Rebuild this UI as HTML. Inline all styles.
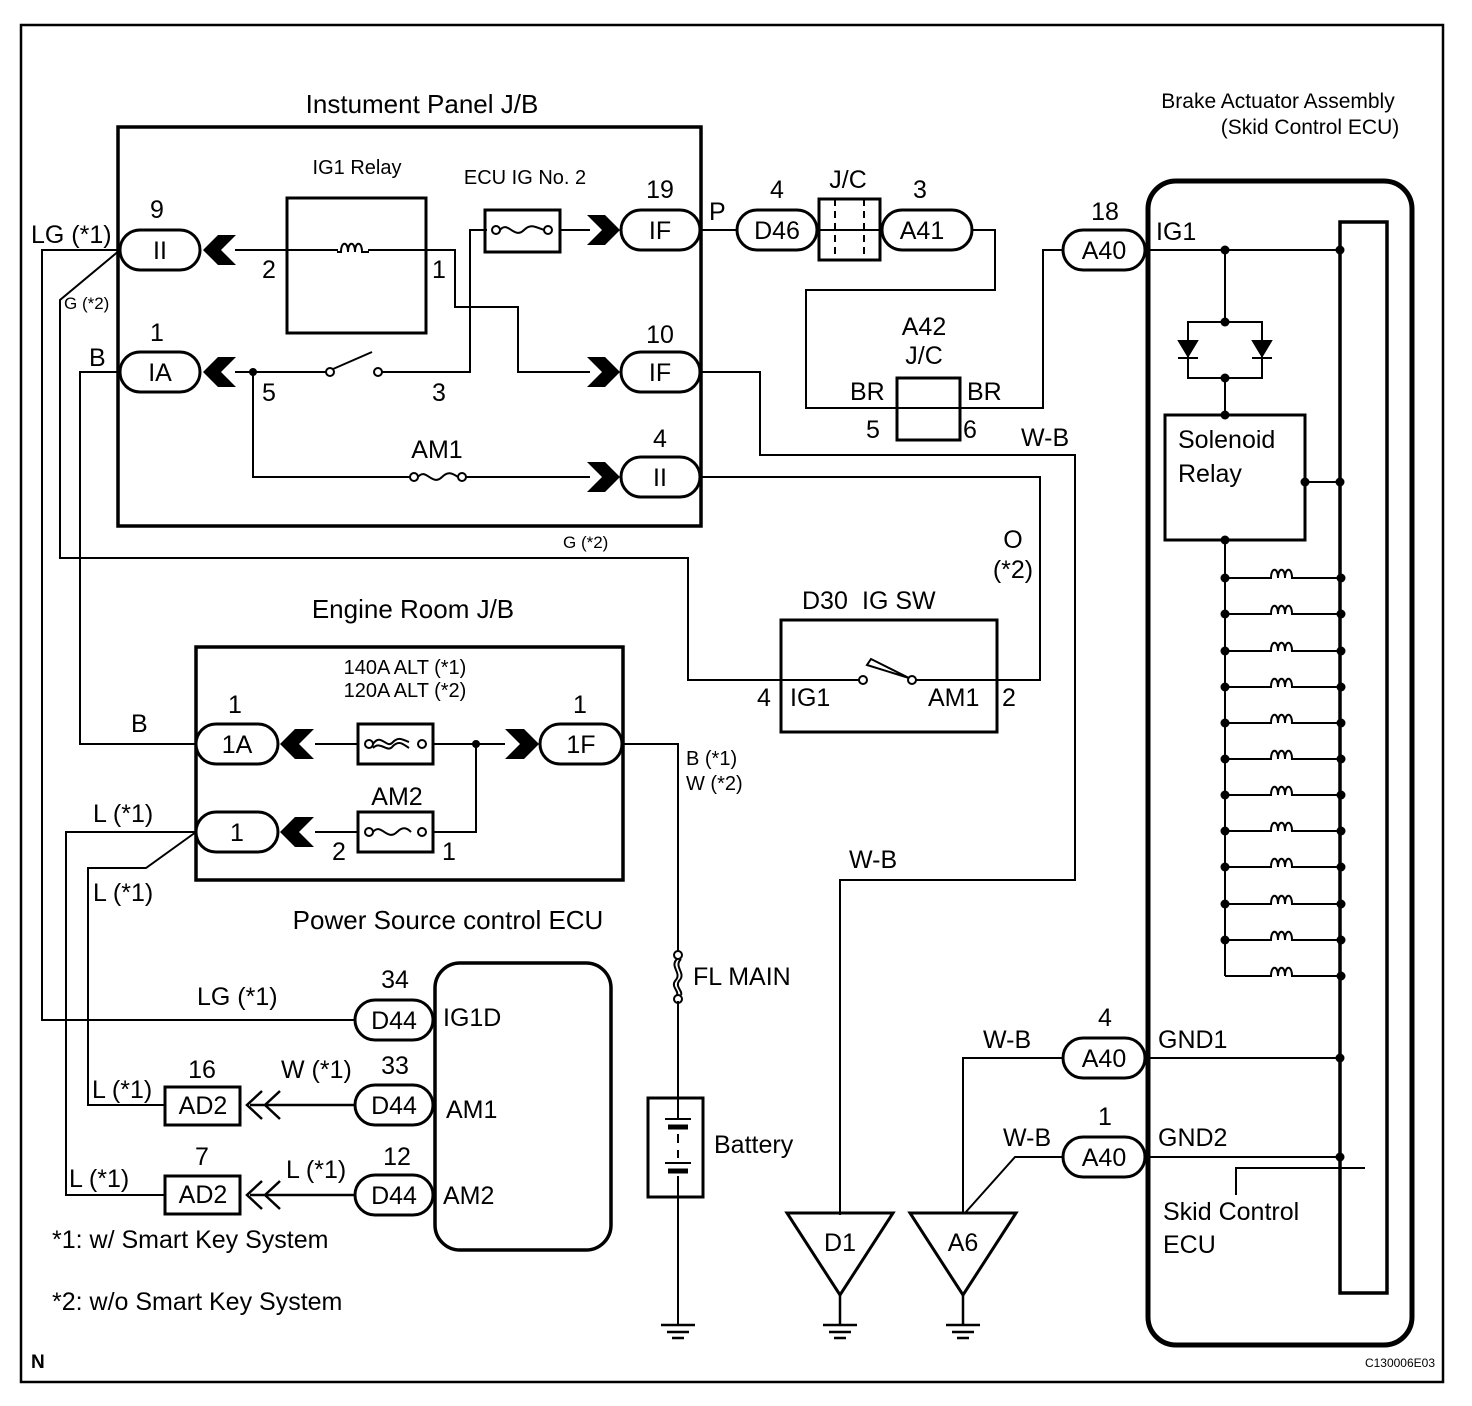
<!DOCTYPE html>
<html><head><meta charset="utf-8"><style>
html,body{margin:0;padding:0;background:#fff}
svg{display:block}
text{font-family:"Liberation Sans",Arial,sans-serif;fill:#000}
</style></head><body>
<svg width="1472" height="1406" viewBox="0 0 1472 1406" xmlns="http://www.w3.org/2000/svg">
<defs>
<path id="coil" d="M-16,0 h4 c0,-11 7,-11 7,0 c0,-11 7,-11 7,0 c0,-11 7,-11 7,0 h7" fill="none" stroke="#000" stroke-width="2"/>
</defs>
<rect x="21" y="25" width="1422" height="1357" fill="none" stroke="#000" stroke-width="2.5"/>
<g fill="none" stroke="#000" stroke-width="2">
<rect x="118" y="127" width="583" height="399" stroke-width="3.5"/>
<rect x="287" y="198" width="139" height="135" stroke-width="3"/>
<rect x="120" y="230" width="80" height="40" rx="20" stroke-width="3" fill="#fff"/>
<rect x="120" y="352" width="80" height="40" rx="20" stroke-width="3" fill="#fff"/>
<rect x="621" y="210" width="79" height="40" rx="20" stroke-width="3" fill="#fff"/>
<rect x="621" y="352" width="79" height="40" rx="20" stroke-width="3" fill="#fff"/>
<rect x="621" y="457" width="79" height="40" rx="20" stroke-width="3" fill="#fff"/>
<path d="M235,250 H338 M368,250 H455 V307 H518 V372 H590"/>
<path d="M235,372 H326 M382,372 H470 V230 H487 M560,230 H590"/>
<path d="M253,372 V477 H410 M466,477 H590"/>
<rect x="485" y="210" width="75" height="42" stroke-width="3"/>
<circle cx="496" cy="230" r="4"/><circle cx="548" cy="230" r="4"/>
<path d="M500,230 c8,-10 14,10 24,0 c6,-6 10,-4 20,0"/>
<circle cx="330" cy="372" r="4"/><circle cx="378" cy="372" r="4"/>
<path d="M333,369 L372,352"/>
<circle cx="414" cy="477" r="4"/><circle cx="462" cy="477" r="4"/>
<path d="M418,477 c8,-10 14,10 24,0 c6,-6 10,-4 16,0"/>
<path d="M700,230 H737 M817,230 H882 M972,230 H995 V290 H806 V408 H1043 V250 H1063"/>
<rect x="737" y="210" width="80" height="40" rx="20" stroke-width="3"/>
<rect x="819" y="199" width="61" height="61" stroke-width="3" fill="#fff"/>
<path d="M819,230 H880"/>
<path d="M835,199 V260 M864,199 V260" stroke-dasharray="7,5"/>
<rect x="882" y="210" width="90" height="40" rx="20" stroke-width="3" fill="#fff"/>
<rect x="897" y="378" width="63" height="62" stroke-width="3" fill="#fff"/>
<path d="M897,408 H960"/>
<rect x="1063" y="230" width="82" height="40" rx="20" stroke-width="3" fill="#fff"/>
<path d="M700,372 H760 V455 H1075 V880 H840 V1215"/>
<path d="M700,477 H1040 V680 H997"/>
<rect x="781" y="620" width="216" height="112" stroke-width="3"/>
<path d="M781,680 H859 M916,680 H997"/>
<circle cx="863" cy="680" r="4"/><circle cx="912" cy="680" r="4"/>
<path d="M867,665 L909,678 L871,659 Z" stroke-width="2"/>
<path d="M781,680 H688 V558 H60 V300 L120,250"/>
<path d="M120,250 H42 V1020 H355"/>
<path d="M120,372 H80 V744 H196"/>
<rect x="196" y="647" width="427" height="233" stroke-width="3.5"/>
<rect x="196" y="724" width="82" height="40" rx="20" stroke-width="3" fill="#fff"/>
<rect x="196" y="812" width="82" height="40" rx="20" stroke-width="3" fill="#fff"/>
<rect x="540" y="724" width="82" height="40" rx="20" stroke-width="3" fill="#fff"/>
<path d="M315,744 H358 M433,744 H505 M315,832 H358 M433,832 H476 V744"/>
<rect x="358" y="724" width="75" height="40" stroke-width="3"/>
<rect x="358" y="812" width="75" height="40" stroke-width="3"/>
<circle cx="369" cy="744" r="4"/><circle cx="422" cy="744" r="4"/>
<path d="M373,744 c8,-12 14,6 20,-2 c6,-6 10,-2 16,0 M373,748 c8,-8 14,6 20,-2 c6,-6 10,-2 16,2"/>
<circle cx="369" cy="832" r="4"/><circle cx="422" cy="832" r="4"/>
<path d="M373,832 c8,-10 14,10 24,0 c6,-6 10,-4 14,0"/>
<path d="M196,832 H66 V1195 H165"/>
<path d="M196,832 L146,868 H88 V1105 H165"/>
<rect x="165" y="1087" width="75" height="38" stroke-width="3"/>
<rect x="165" y="1176" width="75" height="38" stroke-width="3"/>
<path d="M262,1091 L247,1105 L262,1119 M280,1091 L265,1105 L280,1119 M250,1105 H355" stroke-width="2.5"/>
<path d="M262,1181 L247,1195 L262,1209 M280,1181 L265,1195 L280,1209 M250,1195 H355" stroke-width="2.5"/>
<rect x="355" y="1000" width="78" height="40" rx="20" stroke-width="3" fill="#fff"/>
<rect x="355" y="1085" width="78" height="40" rx="20" stroke-width="3" fill="#fff"/>
<rect x="355" y="1175" width="78" height="40" rx="20" stroke-width="3" fill="#fff"/>
<rect x="435" y="963" width="176" height="287" rx="25" stroke-width="3.5"/>
<path d="M622,744 H678 V952 M678,1001 V1098 M678,1197 V1325"/>
<circle cx="678" cy="955" r="4"/><circle cx="678" cy="999" r="4"/>
<path d="M677,959 c-8,8 6,14 -2,22 c-4,6 4,10 2,14 M681,959 c-8,8 6,14 -2,22 c-4,6 4,10 2,14"/>
<rect x="648" y="1098" width="55" height="99" stroke-width="3"/>
<path d="M678,1098 V1119 M665,1119 H691 M678,1134 V1143 M678,1150 V1158 M665,1163 H691 M678,1176 V1197"/>
<path d="M668,1127 H688 M668,1171 H688" stroke-width="5"/>
<path d="M661,1325 H695 M667,1332 H689 M672,1338 H684" stroke-width="2.5"/>
<path d="M787,1213 H893 L840,1295 Z" stroke-width="3"/>
<path d="M840,1295 V1325 M823,1325 H857 M829,1332 H851 M834,1338 H846" stroke-width="2.5"/>
<path d="M910,1213 H1016 L963,1295 Z" stroke-width="3"/>
<path d="M963,1295 V1325 M946,1325 H980 M952,1332 H974 M957,1338 H969" stroke-width="2.5"/>
<path d="M963,1213 V1058 H1063 M965,1213 L1015,1157 H1063"/>
<rect x="1063" y="1038" width="82" height="40" rx="20" stroke-width="3" fill="#fff"/>
<rect x="1063" y="1137" width="82" height="40" rx="20" stroke-width="3" fill="#fff"/>
<rect x="1148" y="181" width="264" height="1164" rx="28" stroke-width="5"/>
<rect x="1340" y="222" width="47" height="1071" stroke-width="3.5"/>
<path d="M1145,250 H1340 M1225,250 V322 M1188,322 H1262 V378 H1188 Z M1225,378 V415"/>
<path d="M1305,482 H1340 M1225,540 V976"/>
<rect x="1165" y="415" width="140" height="125" stroke-width="3"/>
<path d="M1145,1058 H1340 M1145,1157 H1340 M1236,1195 V1168 H1365"/>
</g>
<g fill="#000" stroke="#000" stroke-width="2">
<path d="M1179,341 H1197 L1188,356 Z"/><path d="M1178,358 H1198"/>
<path d="M1253,341 H1271 L1262,356 Z"/><path d="M1252,358 H1272"/>
</g>
<g fill="none" stroke="#000" stroke-width="2">
<path d="M1225,578 H1267 M1299,578 H1341"/><use href="#coil" x="1283" y="578"/>
<path d="M1225,614 H1267 M1299,614 H1341"/><use href="#coil" x="1283" y="614"/>
<path d="M1225,651 H1267 M1299,651 H1341"/><use href="#coil" x="1283" y="651"/>
<path d="M1225,687 H1267 M1299,687 H1341"/><use href="#coil" x="1283" y="687"/>
<path d="M1225,723 H1267 M1299,723 H1341"/><use href="#coil" x="1283" y="723"/>
<path d="M1225,759 H1267 M1299,759 H1341"/><use href="#coil" x="1283" y="759"/>
<path d="M1225,795 H1267 M1299,795 H1341"/><use href="#coil" x="1283" y="795"/>
<path d="M1225,831 H1267 M1299,831 H1341"/><use href="#coil" x="1283" y="831"/>
<path d="M1225,867 H1267 M1299,867 H1341"/><use href="#coil" x="1283" y="867"/>
<path d="M1225,904 H1267 M1299,904 H1341"/><use href="#coil" x="1283" y="904"/>
<path d="M1225,940 H1267 M1299,940 H1341"/><use href="#coil" x="1283" y="940"/>
<path d="M1225,976 H1267 M1299,976 H1341"/><use href="#coil" x="1283" y="976"/>
</g>
<use href="#coil" x="353" y="252"/>
<g fill="#000">
<circle cx="253" cy="372" r="4"/><circle cx="476" cy="744" r="4"/>
<circle cx="1225" cy="250" r="4.5"/><circle cx="1340" cy="250" r="4.5"/>
<circle cx="1225" cy="322" r="4.5"/><circle cx="1225" cy="378" r="4.5"/><circle cx="1225" cy="415" r="4.5"/>
<circle cx="1305" cy="482" r="4.5"/><circle cx="1340" cy="482" r="4.5"/><circle cx="1225" cy="540" r="4.5"/>
<circle cx="1340" cy="1058" r="4.5"/><circle cx="1340" cy="1157" r="4.5"/>
<circle cx="1225" cy="578" r="4.5"/><circle cx="1225" cy="614" r="4.5"/><circle cx="1225" cy="651" r="4.5"/><circle cx="1225" cy="687" r="4.5"/><circle cx="1225" cy="723" r="4.5"/><circle cx="1225" cy="759" r="4.5"/><circle cx="1225" cy="795" r="4.5"/><circle cx="1225" cy="831" r="4.5"/><circle cx="1225" cy="867" r="4.5"/><circle cx="1225" cy="904" r="4.5"/><circle cx="1225" cy="940" r="4.5"/>
<circle cx="1341" cy="578" r="4.5"/><circle cx="1341" cy="614" r="4.5"/><circle cx="1341" cy="651" r="4.5"/><circle cx="1341" cy="687" r="4.5"/><circle cx="1341" cy="723" r="4.5"/><circle cx="1341" cy="759" r="4.5"/><circle cx="1341" cy="795" r="4.5"/><circle cx="1341" cy="831" r="4.5"/><circle cx="1341" cy="867" r="4.5"/><circle cx="1341" cy="904" r="4.5"/><circle cx="1341" cy="940" r="4.5"/><circle cx="1341" cy="976" r="4.5"/>
<path d="M203,250 L218,235 L236,235 L221,250 L236,265 L218,265 Z"/>
<path d="M203,372 L218,357 L236,357 L221,372 L236,387 L218,387 Z"/>
<path d="M620,230 L605,215 L587,215 L602,230 L587,245 L605,245 Z"/>
<path d="M620,372 L605,357 L587,357 L602,372 L587,387 L605,387 Z"/>
<path d="M620,477 L605,462 L587,462 L602,477 L587,492 L605,492 Z"/>
<path d="M280,744 L295,729 L314,729 L299,744 L314,759 L295,759 Z"/>
<path d="M280,832 L295,817 L314,817 L299,832 L314,847 L295,847 Z"/>
<path d="M539,744 L524,729 L505,729 L520,744 L505,759 L524,759 Z"/>
</g>
<g font-size="25">
<text x="422" y="113" text-anchor="middle" font-size="26">Instument Panel J/B</text>
<text x="413" y="618" text-anchor="middle" font-size="26">Engine Room J/B</text>
<text x="448" y="929" text-anchor="middle" font-size="26">Power Source control ECU</text>
<text x="160" y="259" text-anchor="middle">II</text>
<text x="160" y="381" text-anchor="middle">IA</text>
<text x="660" y="239" text-anchor="middle">IF</text>
<text x="660" y="381" text-anchor="middle">IF</text>
<text x="660" y="486" text-anchor="middle">II</text>
<text x="157" y="218" text-anchor="middle">9</text>
<text x="157" y="341" text-anchor="middle">1</text>
<text x="660" y="198" text-anchor="middle">19</text>
<text x="660" y="343" text-anchor="middle">10</text>
<text x="660" y="447" text-anchor="middle">4</text>
<text x="31" y="243">LG (*1)</text>
<text x="89" y="366">B</text>
<text x="262" y="278">2</text>
<text x="432" y="278">1</text>
<text x="262" y="401">5</text>
<text x="432" y="401">3</text>
<text x="437" y="458" text-anchor="middle">AM1</text>
<text x="709" y="220">P</text>
<text x="777" y="239" text-anchor="middle">D46</text>
<text x="777" y="198" text-anchor="middle">4</text>
<text x="848" y="188" text-anchor="middle">J/C</text>
<text x="920" y="198" text-anchor="middle">3</text>
<text x="922" y="239" text-anchor="middle">A41</text>
<text x="1105" y="220" text-anchor="middle">18</text>
<text x="1104" y="259" text-anchor="middle">A40</text>
<text x="1156" y="240">IG1</text>
<text x="924" y="335" text-anchor="middle">A42</text>
<text x="924" y="364" text-anchor="middle">J/C</text>
<text x="850" y="400">BR</text>
<text x="967" y="400">BR</text>
<text x="866" y="438">5</text>
<text x="963" y="438">6</text>
<text x="1021" y="446">W-B</text>
<text x="1013" y="548" text-anchor="middle">O</text>
<text x="1013" y="578" text-anchor="middle">(*2)</text>
<text x="802" y="609">D30</text><text x="862" y="609">IG SW</text>
<text x="757" y="706">4</text>
<text x="790" y="706">IG1</text>
<text x="928" y="706">AM1</text>
<text x="1002" y="706">2</text>
<text x="131" y="732">B</text>
<text x="237" y="753" text-anchor="middle">1A</text>
<text x="235" y="713" text-anchor="middle">1</text>
<text x="581" y="753" text-anchor="middle">1F</text>
<text x="580" y="713" text-anchor="middle">1</text>
<text x="237" y="841" text-anchor="middle">1</text>
<text x="397" y="805" text-anchor="middle">AM2</text>
<text x="332" y="860">2</text>
<text x="442" y="860">1</text>
<text x="93" y="822">L (*1)</text>
<text x="93" y="901">L (*1)</text>
<text x="693" y="985">FL MAIN</text>
<text x="714" y="1153">Battery</text>
<text x="395" y="988" text-anchor="middle">34</text>
<text x="395" y="1074" text-anchor="middle">33</text>
<text x="397" y="1165" text-anchor="middle">12</text>
<text x="394" y="1029" text-anchor="middle">D44</text>
<text x="394" y="1114" text-anchor="middle">D44</text>
<text x="394" y="1204" text-anchor="middle">D44</text>
<text x="443" y="1026">IG1D</text>
<text x="446" y="1118">AM1</text>
<text x="443" y="1204">AM2</text>
<text x="197" y="1005">LG (*1)</text>
<text x="281" y="1078">W (*1)</text>
<text x="286" y="1178">L (*1)</text>
<text x="202" y="1078" text-anchor="middle">16</text>
<text x="202" y="1165" text-anchor="middle">7</text>
<text x="203" y="1114" text-anchor="middle">AD2</text>
<text x="203" y="1203" text-anchor="middle">AD2</text>
<text x="92" y="1098">L (*1)</text>
<text x="69" y="1187">L (*1)</text>
<text x="52" y="1248">*1: w/ Smart Key System</text>
<text x="52" y="1310">*2: w/o Smart Key System</text>
<text x="849" y="868">W-B</text>
<text x="983" y="1048">W-B</text>
<text x="1003" y="1146">W-B</text>
<text x="1105" y="1026" text-anchor="middle">4</text>
<text x="1105" y="1125" text-anchor="middle">1</text>
<text x="1104" y="1067" text-anchor="middle">A40</text>
<text x="1104" y="1166" text-anchor="middle">A40</text>
<text x="1158" y="1048">GND1</text>
<text x="1158" y="1146">GND2</text>
<text x="1163" y="1220">Skid Control</text>
<text x="1163" y="1253">ECU</text>
<text x="1178" y="448">Solenoid</text>
<text x="1178" y="482">Relay</text>
<text x="840" y="1251" text-anchor="middle">D1</text>
<text x="963" y="1251" text-anchor="middle">A6</text>
</g>
<g font-size="20">
<text x="357" y="174" text-anchor="middle">IG1 Relay</text>
<text x="525" y="184" text-anchor="middle">ECU IG No. 2</text>
<text x="405" y="674" text-anchor="middle">140A ALT (*1)</text>
<text x="405" y="697" text-anchor="middle">120A ALT (*2)</text>
<text x="686" y="765">B (*1)</text>
<text x="686" y="790">W (*2)</text>
<text x="1278" y="108" text-anchor="middle" font-size="21">Brake Actuator Assembly</text>
<text x="1310" y="134" text-anchor="middle" font-size="21">(Skid Control ECU)</text>
</g>
<g font-size="17">
<text x="64" y="309">G (*2)</text>
<text x="563" y="548">G (*2)</text>
</g>
<text x="31" y="1368" font-size="19" font-weight="bold">N</text>
<text x="1435" y="1367" font-size="12" text-anchor="end">C130006E03</text>
</svg>
</body></html>
